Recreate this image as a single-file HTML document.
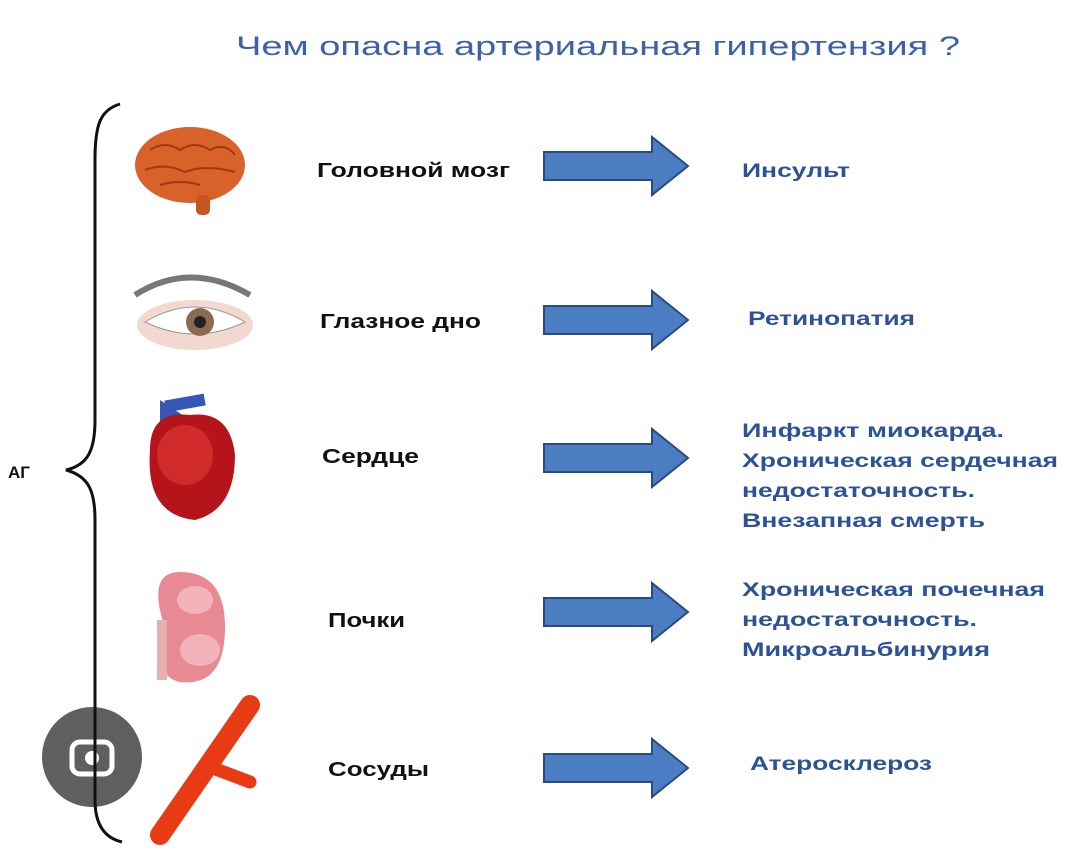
<!DOCTYPE html>
<html><head><meta charset="utf-8"><style>
html,body{margin:0;padding:0;background:#fff;}
svg{display:block;}
text{font-family:"Liberation Sans",sans-serif;}
</style></head><body>
<svg width="1080" height="854" viewBox="0 0 1080 854" xmlns="http://www.w3.org/2000/svg">
<rect width="1080" height="854" fill="#fff"/>
<text x="236" y="55" font-size="27" fill="#3d63a6" textLength="724" lengthAdjust="spacingAndGlyphs">Чем опасна артериальная гипертензия ?</text>

<!-- lens icon -->
<circle cx="92" cy="757" r="50" fill="#5f5f5f"/>
<rect x="72" y="742" width="40" height="32" rx="8" fill="none" stroke="#fff" stroke-width="5"/>
<circle cx="92" cy="758" r="7" fill="#fff"/>

<!-- brace -->
<path d="M120,104 C100,110 95,125 95,160 L95,420 C95,450 88,465 66,470 C88,476 95,490 95,520 L95,800 C95,825 105,838 122,842" fill="none" stroke="#111" stroke-width="3"/>
<text x="8" y="478" font-size="17" font-weight="bold" fill="#111">АГ</text>

<!-- brain -->
<g>
<ellipse cx="190" cy="165" rx="55" ry="38" fill="#d9622b"/>
<path d="M150,150 q15,-10 30,0 q15,-10 30,0 q15,-8 25,5 M145,170 q20,-8 40,2 q20,-8 50,0 M160,185 q20,-6 40,0" stroke="#a03a14" stroke-width="2" fill="none"/>
<rect x="196" y="195" width="14" height="20" rx="5" fill="#c85520"/>
</g>
<!-- eye -->
<g>
<path d="M135,295 q55,-35 115,0" stroke="#777" stroke-width="6" fill="none"/>
<ellipse cx="195" cy="325" rx="58" ry="25" fill="#f2d9cf"/>
<path d="M145,322 q50,-30 100,0 q-50,24 -100,0z" fill="#fff" stroke="#999"/>
<circle cx="200" cy="322" r="14" fill="#8a6a50"/>
<circle cx="200" cy="322" r="6" fill="#222"/>
</g>
<!-- heart -->
<g>
<path d="M160,400 l0,40 l30,-20z" fill="#3657b8"/>
<rect x="165" y="397" width="40" height="12" fill="#3657b8" transform="rotate(-10 185 403)"/>
<path d="M150,450 q0,-40 40,-35 q40,-5 45,40 q0,55 -40,65 q-50,-5 -45,-70z" fill="#b5141a"/>
<ellipse cx="185" cy="455" rx="28" ry="30" fill="#d12a2a"/>
</g>
<!-- kidney -->
<g>
<path d="M180,572 q45,0 45,55 q0,60 -45,55 q-25,-5 -15,-40 q-12,-8 -2,-20 q-15,-50 17,-50z" fill="#e88a94"/>
<ellipse cx="195" cy="600" rx="18" ry="14" fill="#f4b3bb"/>
<ellipse cx="200" cy="650" rx="20" ry="16" fill="#f4b3bb"/>
<rect x="157" y="620" width="10" height="60" fill="#e7b0b0"/>
</g>
<!-- vessel -->
<g>
<line x1="250" y1="705" x2="160" y2="835" stroke="#e83a15" stroke-width="20" stroke-linecap="round"/>
<line x1="205" y1="765" x2="250" y2="782" stroke="#e83a15" stroke-width="13" stroke-linecap="round"/>
</g>

<g font-size="20" font-weight="bold" fill="#111" lengthAdjust="spacingAndGlyphs">
<text x="317" y="177" textLength="193" lengthAdjust="spacingAndGlyphs">Головной мозг</text>
<text x="320" y="328" textLength="161" lengthAdjust="spacingAndGlyphs">Глазное дно</text>
<text x="322" y="463" textLength="97" lengthAdjust="spacingAndGlyphs">Сердце</text>
<text x="328" y="627" textLength="77" lengthAdjust="spacingAndGlyphs">Почки</text>
<text x="328" y="776" textLength="101" lengthAdjust="spacingAndGlyphs">Сосуды</text>
</g>

<g fill="#4a7dc2" stroke="#2a4a80" stroke-width="2">
<path d="M544,152 H652 V137 L688,166 L652,195 V180 H544Z"/>
<path d="M544,306 H652 V291 L688,320 L652,349 V334 H544Z"/>
<path d="M544,444 H652 V429 L688,458 L652,487 V472 H544Z"/>
<path d="M544,598 H652 V583 L688,612 L652,641 V626 H544Z"/>
<path d="M544,754 H652 V739 L688,768 L652,797 V782 H544Z"/>
</g>

<g font-size="19" font-weight="bold" fill="#2d5396">
<text x="742" y="177" textLength="108" lengthAdjust="spacingAndGlyphs">Инсульт</text>
<text x="748" y="325" textLength="167" lengthAdjust="spacingAndGlyphs">Ретинопатия</text>
<text x="742" y="437" textLength="262" lengthAdjust="spacingAndGlyphs">Инфаркт миокарда.</text>
<text x="742" y="467" textLength="316" lengthAdjust="spacingAndGlyphs">Хроническая сердечная</text>
<text x="742" y="497" textLength="233" lengthAdjust="spacingAndGlyphs">недостаточность.</text>
<text x="742" y="527" textLength="243" lengthAdjust="spacingAndGlyphs">Внезапная смерть</text>
<text x="742" y="596" textLength="303" lengthAdjust="spacingAndGlyphs">Хроническая почечная</text>
<text x="742" y="626" textLength="235" lengthAdjust="spacingAndGlyphs">недостаточность.</text>
<text x="742" y="656" textLength="248" lengthAdjust="spacingAndGlyphs">Микроальбинурия</text>
<text x="750" y="770" textLength="182" lengthAdjust="spacingAndGlyphs">Атеросклероз</text>
</g>
</svg>
</body></html>
